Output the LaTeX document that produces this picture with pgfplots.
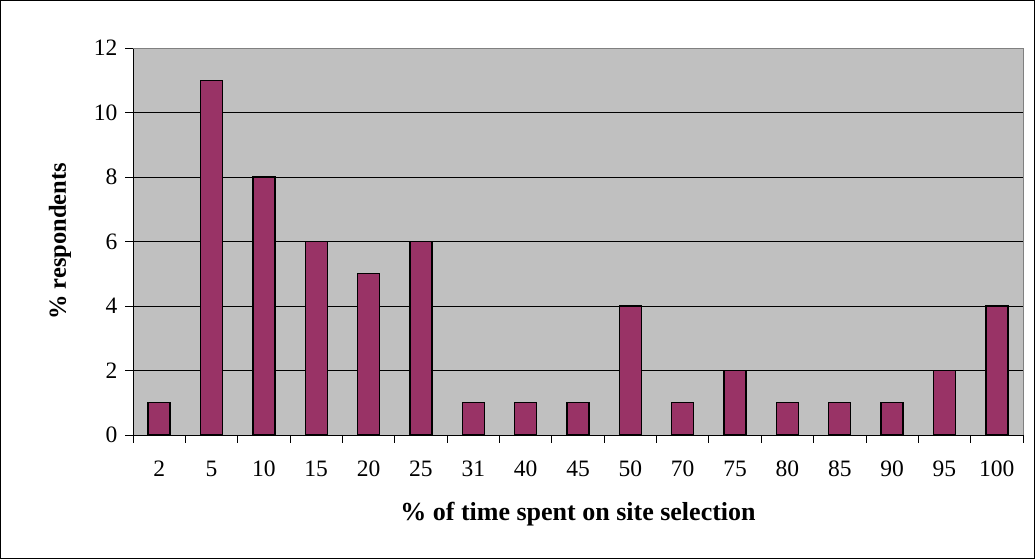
\documentclass[border=0pt]{standalone}
\usepackage{pgfplots}
\pgfplotsset{compat=1.18}
\usepackage{fontspec}
\setmainfont{Liberation Serif}
\definecolor{barc}{HTML}{993366}
\definecolor{bgc}{HTML}{C0C0C0}
\definecolor{brd}{HTML}{808080}
\begin{document}
\begin{tikzpicture}[x=1bp,y=1bp]
\begin{axis}[
  at={(0,0)}, anchor=south west,
  scale only axis, width=890bp, height=387bp,
  xmin=-0.5, xmax=16.5, ymin=0, ymax=12,
  xtick={0,...,16},
  xticklabels={2,5,10,15,20,25,31,40,45,50,70,75,80,85,90,95,100},
  minor xtick={-0.5,0.5,...,16.5},
  ytick={0,2,...,12},
  major x tick style={draw=none},
  tick align=outside,
  major tick length=8bp, minor tick length=8bp,
  tick style={black, line width=0.8bp},
  axis x line*=bottom, axis y line*=left,
  axis line style={black, line width=0.8bp},
  axis background/.style={fill=bgc},
  ymajorgrids, grid style={black, line width=0.6bp},
  ticklabel style={font=\fontsize{23.5bp}{26bp}\selectfont},
  xticklabel style={yshift=-14bp, text height=16bp, text depth=0bp},
  yticklabel style={xshift=-4bp},
  /pgf/number format/assume math mode=true,
  xlabel={\textbf{\% of time spent on site selection}},
  ylabel={\textbf{\% respondents}},
  xlabel style={font=\fontsize{26bp}{28bp}\selectfont, yshift=-19bp},
  ylabel style={font=\fontsize{24.5bp}{28bp}\selectfont, yshift=16bp},
  ybar, bar width=22bp,
  clip=false,
]
\addplot[fill=barc, draw=black, line width=1.4bp] coordinates {
(0,1) (1,11) (2,8) (3,6) (4,5) (5,6) (6,1) (7,1) (8,1) (9,4) (10,1) (11,2) (12,1) (13,1) (14,1) (15,2) (16,4)};
\draw[brd, line width=0.8bp] (rel axis cs:0,1) -- (rel axis cs:1,1) -- (rel axis cs:1,0);
\end{axis}
\pgfresetboundingbox
\draw[black, line width=1bp] (-132.5,-123.5) rectangle (901.5,434.5);
\path (-133,-124) rectangle (902,435);
\end{tikzpicture}
\end{document}
